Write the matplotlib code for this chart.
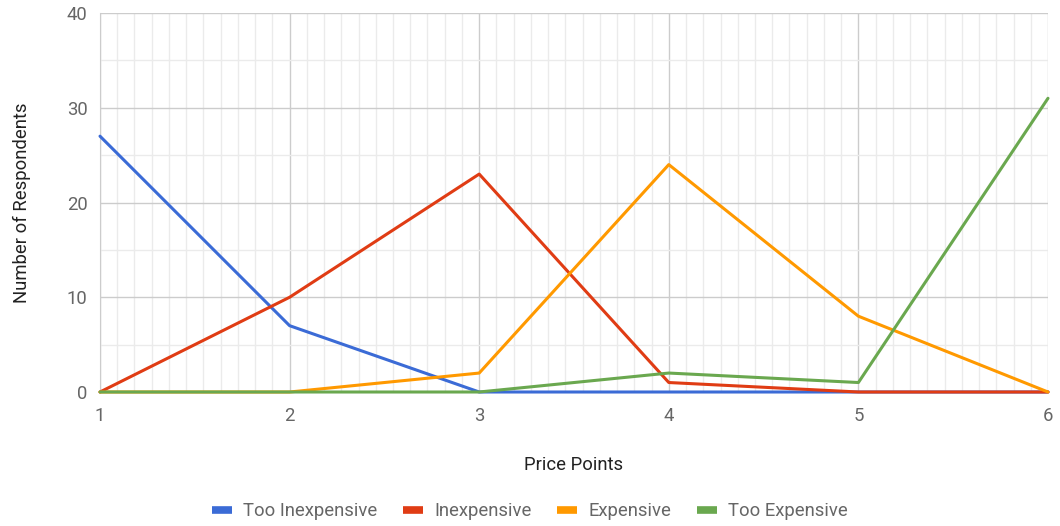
import matplotlib.pyplot as plt
from matplotlib.ticker import MultipleLocator

price_points = [1, 2, 3, 4, 5, 6]
too_inexpensive = [27, 7, 0, 0, 0, 0]
inexpensive = [0, 10, 23, 1, 0, 0]
expensive = [0, 0, 2, 24, 8, 0]
too_expensive = [0, 0, 0, 2, 1, 31]

series = [
    ("Too Inexpensive", too_inexpensive, "#3b6bd6"),
    ("Inexpensive", inexpensive, "#e03c14"),
    ("Expensive", expensive, "#ff9900"),
    ("Too Expensive", too_expensive, "#6aa84f"),
]

plt.rcParams['font.family'] = ['Roboto', 'DejaVu Sans']
fs = 13.3

fig = plt.figure(figsize=(10.6, 5.26), dpi=100)
ax = fig.add_axes([100 / 1060, 1 - 392 / 526, 948 / 1060, 379 / 526])

for name, values, color in series:
    ax.plot(price_points, values, color=color, linewidth=2.2, label=name,
            solid_capstyle='round', clip_on=False, zorder=3)

ax.set_xlim(1, 6)
ax.set_ylim(0, 40)
ax.xaxis.set_major_locator(MultipleLocator(1))
ax.xaxis.set_minor_locator(MultipleLocator(1 / 11))
ax.yaxis.set_major_locator(MultipleLocator(10))
ax.yaxis.set_minor_locator(MultipleLocator(5))

ax.grid(which='major', color='#cccccc', linewidth=1.0)
ax.grid(which='minor', color='#ebebeb', linewidth=1.0)
ax.set_axisbelow(True)

for side in ['top', 'right', 'bottom']:
    ax.spines[side].set_visible(False)
ax.spines['left'].set_color('#cccccc')

ax.tick_params(which='both', length=0, labelsize=fs, labelcolor='#666666')
ax.tick_params(axis='x', pad=11)
ax.tick_params(axis='y', pad=9)

ax.set_xlabel("Price Points", fontsize=fs, color='#222222', labelpad=22)
ax.set_ylabel("Number of Respondents", fontsize=fs, color='#222222', labelpad=26)

leg = fig.legend(loc='center', bbox_to_anchor=(0.5, 1 - 511 / 526), ncol=4,
                 frameon=False, fontsize=fs, handlelength=1.08, handleheight=0.5,
                 columnspacing=1.4, handletextpad=0.6)
for h in leg.legend_handles:
    h.set_linewidth(5.5)
    h.set_solid_capstyle('butt')
for t in leg.get_texts():
    t.set_color('#666666')

fig.savefig("out.png", dpi=100)
